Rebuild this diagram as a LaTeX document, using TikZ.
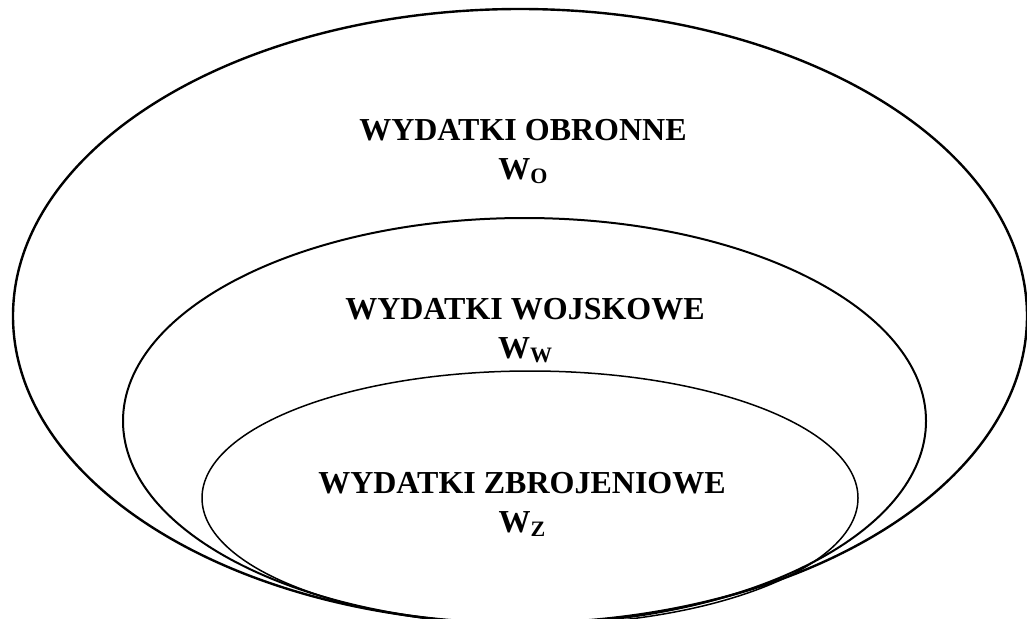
\documentclass[tikz,border=0pt]{standalone}
\usepackage{fontspec}
\newfontfamily\lblfont{Liberation Serif}
\newcommand{\subtxt}[1]{\raisebox{-4pt}{\fontsize{22}{22}\selectfont #1}}
\tikzset{
  lbl/.style={anchor=base, align=center, inner sep=0pt,
    font=\lblfont\bfseries\fontsize{32}{39}\selectfont}
}
\begin{document}
\begin{tikzpicture}[x=1pt,y=-1pt]
        \useasboundingbox (0,0) rectangle (1027,618);
        \clip (0,0) rectangle (1027,618);
        \draw[draw=black, line width=2.4pt] (520,316) ellipse [x radius=507, y radius=307];
        \draw[draw=black, line width=2pt] (524.5,421) ellipse [x radius=401.5, y radius=203];
        \draw[draw=black, line width=1.5pt] (530,498) ellipse [x radius=328, y radius=127];
        \node[lbl] (obronne) at (523,179) {WYDATKI OBRONNE\\W\subtxt{O}};
        \node[lbl] (wojskowe) at (525,358) {WYDATKI WOJSKOWE\\W\subtxt{W}};
        \node[lbl] (zbrojeniowe) at (522,532) {WYDATKI ZBROJENIOWE\\W\subtxt{Z}};
    \end{tikzpicture}
\end{document}
